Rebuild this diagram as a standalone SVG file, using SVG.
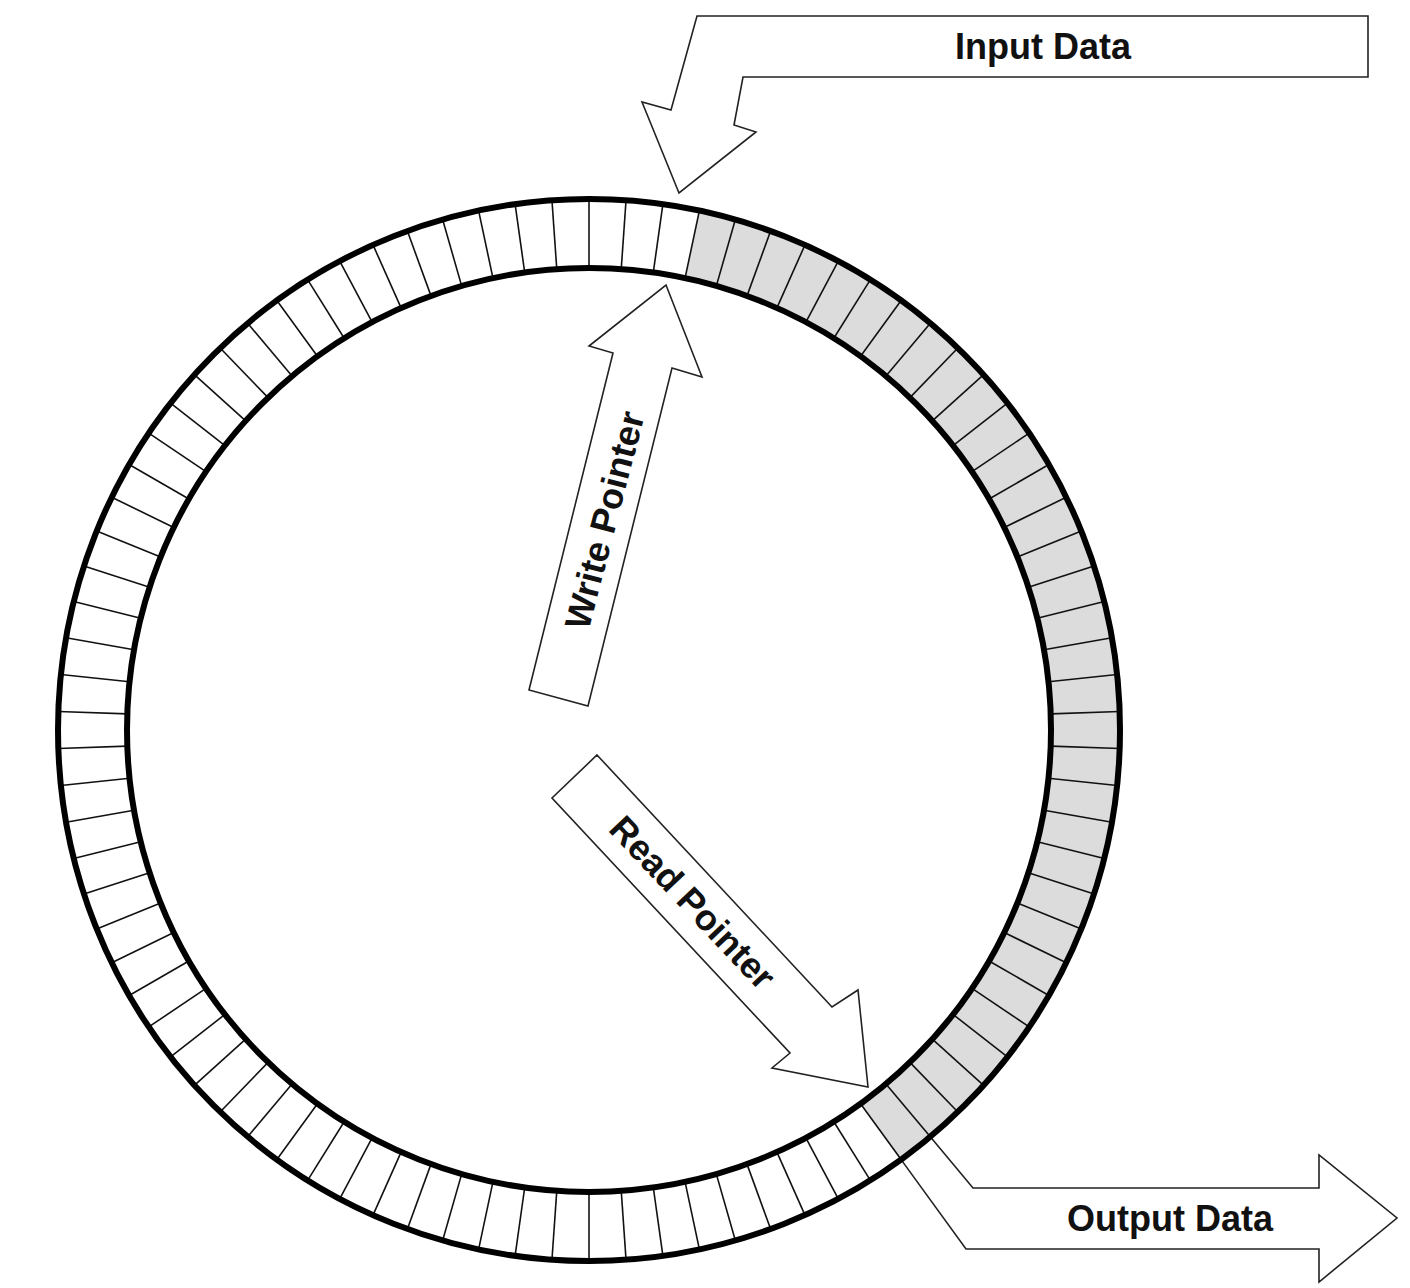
<svg xmlns="http://www.w3.org/2000/svg" xmlns:xlink="http://www.w3.org/1999/xlink" width="1410" height="1288" viewBox="0 0 1410 1288">
<style>
.lbl{font-family:"Liberation Sans",Arial,sans-serif;font-weight:bold;font-size:36px;fill:#111;text-anchor:middle}
.arrow{fill:#fff;stroke:#222;stroke-width:1.6;stroke-linejoin:miter}
.ring{fill:none;stroke:#000;stroke-width:6}
.spoke{stroke:#111;stroke-width:1.6}
</style>
<defs>
<line id="s" class="spoke" x1="589" y1="199" x2="589" y2="268"/>
</defs>
<rect x="0" y="0" width="1410" height="1288" fill="#fff"/>
<g id="connectors">
<path id="output-arrow" class="arrow" d="M930.3,1136.7 L973,1188 L1319,1188 L1319,1155 L1397,1218 L1319,1282 L1319,1249 L966,1249 L901.1,1159.6"/>
</g>
<g id="buffer">
<path d="M699.4,210.6 A531,531 0 0 1 901.1,1159.6 L860.6,1103.8 A462,462 0 0 0 685.1,278.1 Z" fill="#dcdcdc"/>
<g id="spokes">
<use xlink:href="#s" transform="rotate(0 589 730)"/><use xlink:href="#s" transform="rotate(4 589 730)"/><use xlink:href="#s" transform="rotate(8 589 730)"/><use xlink:href="#s" transform="rotate(12 589 730)"/><use xlink:href="#s" transform="rotate(16 589 730)"/><use xlink:href="#s" transform="rotate(20 589 730)"/><use xlink:href="#s" transform="rotate(24 589 730)"/><use xlink:href="#s" transform="rotate(28 589 730)"/><use xlink:href="#s" transform="rotate(32 589 730)"/><use xlink:href="#s" transform="rotate(36 589 730)"/>
<use xlink:href="#s" transform="rotate(40 589 730)"/><use xlink:href="#s" transform="rotate(44 589 730)"/><use xlink:href="#s" transform="rotate(48 589 730)"/><use xlink:href="#s" transform="rotate(52 589 730)"/><use xlink:href="#s" transform="rotate(56 589 730)"/><use xlink:href="#s" transform="rotate(60 589 730)"/><use xlink:href="#s" transform="rotate(64 589 730)"/><use xlink:href="#s" transform="rotate(68 589 730)"/><use xlink:href="#s" transform="rotate(72 589 730)"/><use xlink:href="#s" transform="rotate(76 589 730)"/>
<use xlink:href="#s" transform="rotate(80 589 730)"/><use xlink:href="#s" transform="rotate(84 589 730)"/><use xlink:href="#s" transform="rotate(88 589 730)"/><use xlink:href="#s" transform="rotate(92 589 730)"/><use xlink:href="#s" transform="rotate(96 589 730)"/><use xlink:href="#s" transform="rotate(100 589 730)"/><use xlink:href="#s" transform="rotate(104 589 730)"/><use xlink:href="#s" transform="rotate(108 589 730)"/><use xlink:href="#s" transform="rotate(112 589 730)"/><use xlink:href="#s" transform="rotate(116 589 730)"/>
<use xlink:href="#s" transform="rotate(120 589 730)"/><use xlink:href="#s" transform="rotate(124 589 730)"/><use xlink:href="#s" transform="rotate(128 589 730)"/><use xlink:href="#s" transform="rotate(132 589 730)"/><use xlink:href="#s" transform="rotate(136 589 730)"/><use xlink:href="#s" transform="rotate(140 589 730)"/><use xlink:href="#s" transform="rotate(144 589 730)"/><use xlink:href="#s" transform="rotate(148 589 730)"/><use xlink:href="#s" transform="rotate(152 589 730)"/><use xlink:href="#s" transform="rotate(156 589 730)"/>
<use xlink:href="#s" transform="rotate(160 589 730)"/><use xlink:href="#s" transform="rotate(164 589 730)"/><use xlink:href="#s" transform="rotate(168 589 730)"/><use xlink:href="#s" transform="rotate(172 589 730)"/><use xlink:href="#s" transform="rotate(176 589 730)"/><use xlink:href="#s" transform="rotate(180 589 730)"/><use xlink:href="#s" transform="rotate(184 589 730)"/><use xlink:href="#s" transform="rotate(188 589 730)"/><use xlink:href="#s" transform="rotate(192 589 730)"/><use xlink:href="#s" transform="rotate(196 589 730)"/>
<use xlink:href="#s" transform="rotate(200 589 730)"/><use xlink:href="#s" transform="rotate(204 589 730)"/><use xlink:href="#s" transform="rotate(208 589 730)"/><use xlink:href="#s" transform="rotate(212 589 730)"/><use xlink:href="#s" transform="rotate(216 589 730)"/><use xlink:href="#s" transform="rotate(220 589 730)"/><use xlink:href="#s" transform="rotate(224 589 730)"/><use xlink:href="#s" transform="rotate(228 589 730)"/><use xlink:href="#s" transform="rotate(232 589 730)"/><use xlink:href="#s" transform="rotate(236 589 730)"/>
<use xlink:href="#s" transform="rotate(240 589 730)"/><use xlink:href="#s" transform="rotate(244 589 730)"/><use xlink:href="#s" transform="rotate(248 589 730)"/><use xlink:href="#s" transform="rotate(252 589 730)"/><use xlink:href="#s" transform="rotate(256 589 730)"/><use xlink:href="#s" transform="rotate(260 589 730)"/><use xlink:href="#s" transform="rotate(264 589 730)"/><use xlink:href="#s" transform="rotate(268 589 730)"/><use xlink:href="#s" transform="rotate(272 589 730)"/><use xlink:href="#s" transform="rotate(276 589 730)"/>
<use xlink:href="#s" transform="rotate(280 589 730)"/><use xlink:href="#s" transform="rotate(284 589 730)"/><use xlink:href="#s" transform="rotate(288 589 730)"/><use xlink:href="#s" transform="rotate(292 589 730)"/><use xlink:href="#s" transform="rotate(296 589 730)"/><use xlink:href="#s" transform="rotate(300 589 730)"/><use xlink:href="#s" transform="rotate(304 589 730)"/><use xlink:href="#s" transform="rotate(308 589 730)"/><use xlink:href="#s" transform="rotate(312 589 730)"/><use xlink:href="#s" transform="rotate(316 589 730)"/>
<use xlink:href="#s" transform="rotate(320 589 730)"/><use xlink:href="#s" transform="rotate(324 589 730)"/><use xlink:href="#s" transform="rotate(328 589 730)"/><use xlink:href="#s" transform="rotate(332 589 730)"/><use xlink:href="#s" transform="rotate(336 589 730)"/><use xlink:href="#s" transform="rotate(340 589 730)"/><use xlink:href="#s" transform="rotate(344 589 730)"/><use xlink:href="#s" transform="rotate(348 589 730)"/><use xlink:href="#s" transform="rotate(352 589 730)"/><use xlink:href="#s" transform="rotate(356 589 730)"/>
</g>
<circle class="ring" cx="589" cy="730" r="531"/>
<circle class="ring" cx="589" cy="730" r="462"/>
</g>
<g id="input-data">
<polygon class="arrow" points="697,16 1368,16 1368,77 743,77 734,125 756,132 679,193 642,102 671,110"/>
<text class="lbl" x="1043" y="59">Input Data</text>
</g>
<g id="output-data">
<text class="lbl" x="1170" y="1231">Output Data</text>
</g>
<g id="write-pointer">
<polygon class="arrow" points="666,285 702,377 672,368 588,706 529,690 613,353 589,346"/>
<text class="lbl" transform="translate(604,520) rotate(-75.4)" x="0" y="13">Write Pointer</text>
</g>
<g id="read-pointer">
<polygon class="arrow" points="597,755 832,1007 858,990 868,1087 772,1068 790,1053 552,798"/>
<text class="lbl" transform="translate(693,902) rotate(46.6)" x="0" y="13">Read Pointer</text>
</g>
</svg>
